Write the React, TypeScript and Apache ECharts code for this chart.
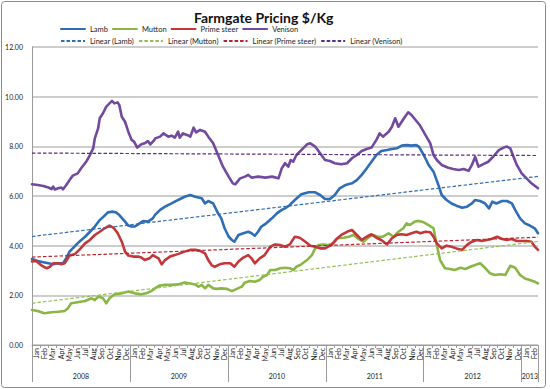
import React, { useEffect, useRef } from "react";
import * as echarts from "echarts";

const months = ["Jan","Feb","Mar","Apr","May","Jun","Jul","Aug","Sep","Oct","Nov","Dec"];
const years = ["2008","2009","2010","2011","2012","2013"];
const yearLabelPos = [6, 18, 30, 42, 54, 61];
const yearBounds = [0, 12, 24, 36, 48, 60, 62];
const monthCount = 62;

// [month position (0 = start of Jan 2008), price $/kg]
const lamb: [number, number][] = [
  [0,3.46],[0.7,3.38],[1.4,3.33],[2.0,3.29],[2.6,3.25],[3.2,3.29],[3.8,3.29],[4.2,3.49],[4.6,3.76],[5.2,3.96],[5.8,4.16],[6.5,4.36],[7.1,4.56],[7.7,4.77],[8.3,5.03],[8.9,5.21],[9.3,5.34],[9.9,5.37],[10.3,5.34],[10.7,5.23],[11.4,4.97],[11.8,4.81],[12.2,4.77],[12.6,4.77],[13.0,4.86],[13.6,4.99],[14.2,4.97],[14.8,5.10],
  [15.1,5.25],[15.7,5.44],[16.3,5.57],[17.1,5.70],[17.9,5.84],[18.7,5.97],[19.4,6.04],[20.0,5.97],[20.8,5.91],[21.2,5.70],[21.6,5.80],[22.2,5.70],[22.8,5.30],[23.2,5.10],[23.6,4.70],[24.1,4.36],[24.5,4.23],[24.8,4.16],[25.3,4.43],[25.9,4.50],[26.5,4.56],[26.9,4.50],[27.3,4.40],[27.7,4.56],[28.1,4.77],[28.7,4.90],[29.4,5.10],[30.0,5.30],[30.6,5.44],
  [31.0,5.50],[31.6,5.64],[32.2,5.84],[33.0,6.07],[33.9,6.15],[34.7,6.15],[35.3,6.04],[35.9,5.88],[36.5,5.88],[37.1,6.04],[37.7,6.31],[38.4,6.44],[39.2,6.51],[39.8,6.64],[40.4,6.85],[41.0,7.11],[41.6,7.38],[42.2,7.65],[42.8,7.81],[43.5,7.85],[44.1,7.89],[44.7,7.92],[45.3,8.03],[45.9,8.05],[46.5,8.03],[47.1,8.05],
  [47.4,7.99],[48.0,7.65],[48.6,7.25],[49.2,6.98],[49.8,6.44],[50.2,6.04],[50.8,5.84],[51.4,5.70],[52.0,5.61],[52.7,5.53],[53.3,5.57],[53.9,5.70],[54.3,5.84],[54.9,5.80],[55.5,5.70],[56.0,5.50],[56.4,5.77],[56.9,5.70],[57.6,5.80],[58.2,5.80],[58.8,5.70],[59.2,5.44],[59.8,5.10],[60.4,4.90],[61.0,4.81],[61.6,4.70],[62.0,4.50]
];

const mutton: [number, number][] = [
  [0,1.41],[0.7,1.37],[1.5,1.28],[2.4,1.32],[3.2,1.34],[4.0,1.37],[4.4,1.48],[4.8,1.68],[5.6,1.72],[6.5,1.77],[7.3,1.88],[7.7,1.81],[8.1,1.95],[8.7,1.88],[9.1,1.68],[9.5,1.88],[10.1,2.04],[11.0,2.08],[11.8,2.15],[12.6,2.08],[13.4,2.04],[14.0,2.08],[14.6,2.17],[15.2,2.31],[15.6,2.39],
  [16.3,2.42],[17.1,2.42],[17.9,2.44],[18.7,2.52],[19.4,2.48],[20.0,2.44],[20.4,2.35],[20.8,2.42],[21.2,2.28],[21.6,2.42],[22.2,2.28],[22.6,2.26],[23.2,2.28],[23.9,2.26],[24.5,2.17],[25.1,2.26],[25.7,2.35],[26.1,2.52],[26.7,2.58],[27.3,2.55],[27.9,2.62],[28.3,2.75],[28.8,2.82],[29.2,3.02],[29.8,3.02],[30.4,3.09],[31.0,3.11],
  [31.6,3.09],[32.0,3.02],[32.4,3.15],[33.0,3.25],[33.7,3.42],[34.3,3.62],[34.7,3.89],[35.1,4.03],[35.7,4.05],[36.3,4.03],[36.9,4.09],[37.5,4.30],[38.2,4.32],[38.8,4.36],[39.4,4.43],[40.0,4.27],[40.6,4.16],[41.2,4.32],[41.8,4.43],[42.4,4.36],[43.0,4.36],[43.7,4.50],[44.3,4.36],[44.9,4.56],[45.5,4.70],[45.9,4.90],[46.3,4.83],[46.9,4.97],
  [47.4,4.99],[48.0,4.94],[48.6,4.83],[49.2,4.70],[49.6,4.03],[50.0,3.42],[50.6,3.09],[51.2,3.06],[51.8,3.02],[52.5,3.11],[53.1,3.06],[53.7,3.15],[54.3,3.22],[54.9,3.29],[55.5,3.11],[56.1,2.89],[56.7,2.82],[57.4,2.85],[58.0,2.82],[58.6,3.19],[59.2,3.11],[59.8,2.82],[60.4,2.68],[61.0,2.62],[61.6,2.55],[62.0,2.48]
];

const primeSteer: [number, number][] = [
  [0,3.36],[0.5,3.38],[1.1,3.22],[1.8,3.09],[2.2,3.15],[2.6,3.29],[3.2,3.29],[3.6,3.25],[4.0,3.29],[4.6,3.60],[5.2,3.65],[5.8,3.83],[6.5,4.09],[7.1,4.23],[7.7,4.43],[8.3,4.56],[8.9,4.70],[9.5,4.81],[10.0,4.72],[10.5,4.50],[11.0,4.16],[11.4,3.76],[11.8,3.60],[12.4,3.56],[13.0,3.56],[13.4,3.52],[13.8,3.42],[14.4,3.49],[14.8,3.62],
  [15.5,3.49],[15.9,3.25],[16.3,3.42],[16.9,3.56],[17.5,3.62],[18.1,3.69],[18.7,3.76],[19.4,3.83],[20.0,3.83],[20.6,3.79],[21.2,3.69],[21.6,3.42],[22.0,3.22],[22.4,3.15],[23.0,3.25],[23.6,3.29],[24.3,3.29],[24.8,3.15],[25.3,3.36],[25.9,3.52],[26.5,3.62],[26.9,3.49],[27.3,3.29],[27.9,3.49],[28.5,3.62],[29.2,3.96],[29.8,4.05],[30.4,4.03],[31.0,3.96],
  [31.6,4.05],[32.2,4.36],[32.8,4.32],[33.5,4.16],[34.1,4.00],[34.7,3.96],[35.3,3.89],[35.9,3.89],[36.7,4.03],[37.3,4.27],[37.9,4.43],[38.6,4.56],[39.2,4.63],[39.8,4.43],[40.4,4.23],[41.0,4.36],[41.6,4.46],[42.2,4.32],[42.8,4.23],[43.5,4.05],[44.1,4.30],[44.7,4.43],[45.3,4.46],[45.9,4.43],[46.5,4.50],[47.1,4.56],
  [47.6,4.50],[48.2,4.56],[48.8,4.54],[49.2,4.36],[49.6,4.09],[50.2,3.89],[50.8,4.00],[51.4,3.96],[52.0,3.89],[52.7,3.83],[53.3,4.03],[53.9,4.16],[54.5,4.23],[55.1,4.19],[55.7,4.23],[56.3,4.27],[57.0,4.36],[57.6,4.27],[58.2,4.23],[58.8,4.27],[59.4,4.19],[60.0,4.19],[60.6,4.19],[61.2,4.16],[61.6,3.96],[62.0,3.83]
];

const venison: [number, number][] = [
  [0,6.47],[0.7,6.44],[1.4,6.40],[2.0,6.34],[2.4,6.28],[2.6,6.38],[2.8,6.26],[3.2,6.31],[3.6,6.34],[3.8,6.27],[4.2,6.44],[4.6,6.64],[5.0,6.82],[5.6,6.91],[6.0,7.11],[6.7,7.41],[7.1,7.65],[7.5,7.92],[7.7,8.32],[8.1,8.72],[8.3,9.13],[8.7,9.33],[9.1,9.60],[9.5,9.73],[9.8,9.83],[10.1,9.73],[10.5,9.77],[10.7,9.66],[11.0,9.19],[11.4,8.99],[11.8,8.59],[12.2,8.26],[12.5,8.19],[12.9,7.95],[13.4,8.08],[13.8,8.12],[14.2,8.21],[14.5,8.08],[15.0,8.26],
  [15.1,8.32],[15.7,8.39],[16.1,8.52],[16.7,8.39],[17.1,8.43],[17.5,8.35],[17.9,8.59],[18.1,8.35],[18.5,8.52],[19.0,8.46],[19.4,8.39],[19.8,8.75],[20.1,8.56],[20.6,8.66],[21.2,8.59],[21.6,8.39],[22.2,8.12],[22.8,7.65],[23.4,7.18],[24.1,6.78],[24.6,6.51],[24.9,6.47],[25.5,6.71],[26.1,6.78],[26.5,6.85],[26.9,6.74],[27.7,6.78],[28.6,6.74],[29.4,6.78],[30.2,6.71],[30.6,7.11],
  [31.0,7.32],[31.4,7.18],[31.7,7.45],[32.0,7.38],[32.4,7.65],[33.0,7.85],[33.7,8.08],[34.1,8.12],[34.7,7.99],[35.3,7.72],[35.9,7.45],[36.5,7.41],[37.1,7.32],[37.9,7.28],[38.6,7.32],[39.2,7.52],[39.8,7.65],[40.4,7.81],[41.0,7.89],[41.6,7.95],[42.2,8.26],[42.6,8.52],[43.0,8.39],[43.7,8.59],[44.1,8.79],[44.5,9.13],[44.9,8.79],[45.3,8.99],[45.7,9.19],[46.1,9.37],[46.5,9.26],
  [46.9,9.10],[47.5,8.86],[48.2,8.46],[48.8,8.12],[49.2,7.65],[49.6,7.45],[50.2,7.25],[51.0,7.14],[51.6,7.09],[52.3,7.05],[52.9,7.09],[53.5,7.01],[53.9,7.25],[54.3,7.58],[54.7,7.18],[55.3,7.28],[55.9,7.38],[56.5,7.58],[57.2,7.85],[57.8,7.95],[58.2,7.99],[58.6,7.92],[59.0,7.58],[59.4,7.25],[60.0,6.91],[60.6,6.71],[61.2,6.51],[62.0,6.31]
];

// Linear trend lines: [start value, end value]
const trendLamb = [4.37, 6.79];
const trendMutton = [1.68, 4.17];
const trendPrimeSteer = [3.54, 4.34];
const trendVenison = [7.73, 7.63];

const yTicks = [0, 2, 4, 6, 8, 10, 12];

const FONT = "Lato, 'Liberation Sans', sans-serif";

export default function App() {
  const ref = useRef<HTMLDivElement>(null);
  useEffect(() => {
    document.body.style.margin = "0";
    if (!ref.current) return;
    const chart = echarts.init(ref.current, undefined, { renderer: "svg" });
    const solid = (name: string, data: [number, number][], color: string) => ({
      name, type: "line", data, showSymbol: false, symbol: "none", smooth: false,
      xAxisIndex: 0, yAxisIndex: 0,
      lineStyle: { color, width: 2.6, cap: "round", join: "round" },
      itemStyle: { color }, z: 3,
    });
    const trend = (name: string, tr: number[], color: string) => ({
      name, type: "line", data: [[0, tr[0]], [monthCount, tr[1]]], showSymbol: false, symbol: "none",
      xAxisIndex: 0, yAxisIndex: 0,
      lineStyle: { color, width: 1.2, type: [3.5, 2] },
      itemStyle: { color }, z: 4,
    });
    const colors = { lamb: "#2f6db6", mutton: "#8ab646", prime: "#c3363a", venison: "#71499e" };
    const legendCommon = {
      left: 60, itemWidth: 24, itemHeight: 8, itemGap: 4, padding: 0,
      itemStyle: { color: "rgba(0,0,0,0)", borderWidth: 0, opacity: 0 },
      textStyle: { fontFamily: FONT, fontSize: 7.5, color: "#222", width: 85, overflow: "truncate" },
    };
    chart.setOption({
      animation: false,
      backgroundColor: "#ffffff",
      title: {
        text: "Farmgate Pricing $/Kg", left: 189, top: 5,
        textStyle: { fontFamily: FONT, fontSize: 14, fontWeight: "bold", color: "#111" },
      },
      legend: [
        { ...legendCommon, top: 25, data: ["Lamb", "Mutton", "Prime steer", "Venison"] },
        { ...legendCommon, top: 37, data: ["Linear (Lamb)", "Linear (Mutton)", "Linear (Prime steer)", "Linear (Venison)"] },
      ],
      grid: { left: 32, right: 12, top: 47, bottom: 44, containLabel: false },
      xAxis: [
        {
          type: "value", min: 0, max: monthCount, position: "bottom",
          axisLine: { show: true, lineStyle: { color: "#9a9a9a", width: 1 } },
          axisTick: { show: true, length: 3, customValues: Array.from({ length: monthCount + 1 }, (_, i) => i), lineStyle: { color: "#9a9a9a" } },
          axisLabel: {
            customValues: Array.from({ length: monthCount }, (_, i) => i + 0.5),
            formatter: (v: number) => months[Math.floor(v) % 12],
            rotate: 90, margin: 3, fontSize: 7, fontFamily: FONT, color: "#222",
          },
          splitLine: { show: false },
        },
        {
          type: "value", min: 0, max: monthCount, position: "bottom", offset: 0,
          axisLine: { show: false },
          axisTick: { show: true, length: 37, customValues: yearBounds, lineStyle: { color: "#9a9a9a" } },
          axisLabel: {
            customValues: yearLabelPos,
            formatter: (v: number) => years[yearLabelPos.indexOf(v)] ?? "",
            margin: 27, fontSize: 7, fontFamily: FONT, color: "#222",
          },
          splitLine: { show: false },
        },
      ],
      yAxis: {
        type: "value", min: yTicks[0], max: yTicks[yTicks.length - 1], interval: 2,
        axisLine: { show: true, lineStyle: { color: "#9a9a9a" } },
        axisTick: { show: false },
        axisLabel: { formatter: (v: number) => v.toFixed(2), fontSize: 7, fontFamily: FONT, color: "#222", margin: 9 },
        splitLine: { show: true, lineStyle: { color: "#bdbdbd", width: 1.6 } },
      },
      graphic: [
        { type: "rect", shape: { x: 1.5, y: 1.5, width: 544, height: 386, r: 3 }, style: { fill: "none", stroke: "#8c8c8c", lineWidth: 1 }, silent: true, z: -1 },
      ],
      series: [
        solid("Lamb", lamb, colors.lamb),
        solid("Mutton", mutton, colors.mutton),
        solid("Prime steer", primeSteer, colors.prime),
        solid("Venison", venison, colors.venison),
        trend("Linear (Lamb)", trendLamb, "#2f6db6"),
        trend("Linear (Mutton)", trendMutton, "#92c050"),
        trend("Linear (Prime steer)", trendPrimeSteer, "#b8262c"),
        trend("Linear (Venison)", trendVenison, "#5a2d88"),
      ],
    });
    return () => chart.dispose();
  }, []);
  return <div ref={ref} style={{ width: 550, height: 389 }} />;
}
